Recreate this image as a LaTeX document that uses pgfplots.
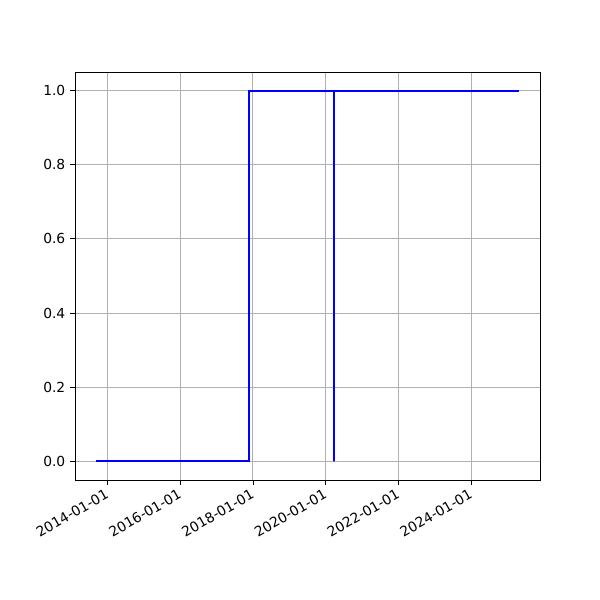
\documentclass[border=0pt]{standalone}
\usepackage{fontspec}
\setmainfont{DejaVu Sans}
\usepackage{pgfplots}
\pgfplotsset{compat=1.18}
\begin{document}
\begin{tikzpicture}
\path[use as bounding box] (0,0) rectangle (432bp,432bp);
\begin{axis}[
  at={(54bp,86.4bp)}, anchor=south west,
  scale only axis, width=334.8bp, height=293.76bp,
  xmin=2013.11, xmax=2025.89,
  ymin=-0.05, ymax=1.05,
  xtick={2014,2016,2018,2020,2022,2024},
  xticklabels={2014-01-01,2016-01-01,2018-01-01,2020-01-01,2022-01-01,2024-01-01},
  xticklabel style={rotate=30, anchor=north east, inner sep=1pt, xshift=-2bp, font=\fontsize{10}{12}\selectfont},
  ytick={0,0.2,0.4,0.6,0.8,1.0},
  yticklabel style={/pgf/number format/.cd, fixed, fixed zerofill, precision=1, /tikz/.cd, font=\fontsize{10}{12}\selectfont},
  /pgf/number format/assume math mode=true,
  grid=major,
  major grid style={color=black!31, line width=0.8pt},
  axis line style={line width=0.6pt},
  tick style={black, line width=0.6pt},
  tick align=outside,
  major tick length=3.5pt,
  xtick pos=bottom, ytick pos=left,
]
\addplot[color=blue, line width=1.5pt, line join=miter] coordinates {
(2013.69,0) (2017.89,0) (2017.89,1) (2020.24,1) (2020.24,0) (2020.24,1) (2025.31,1)
};
\end{axis}
\end{tikzpicture}
\end{document}
